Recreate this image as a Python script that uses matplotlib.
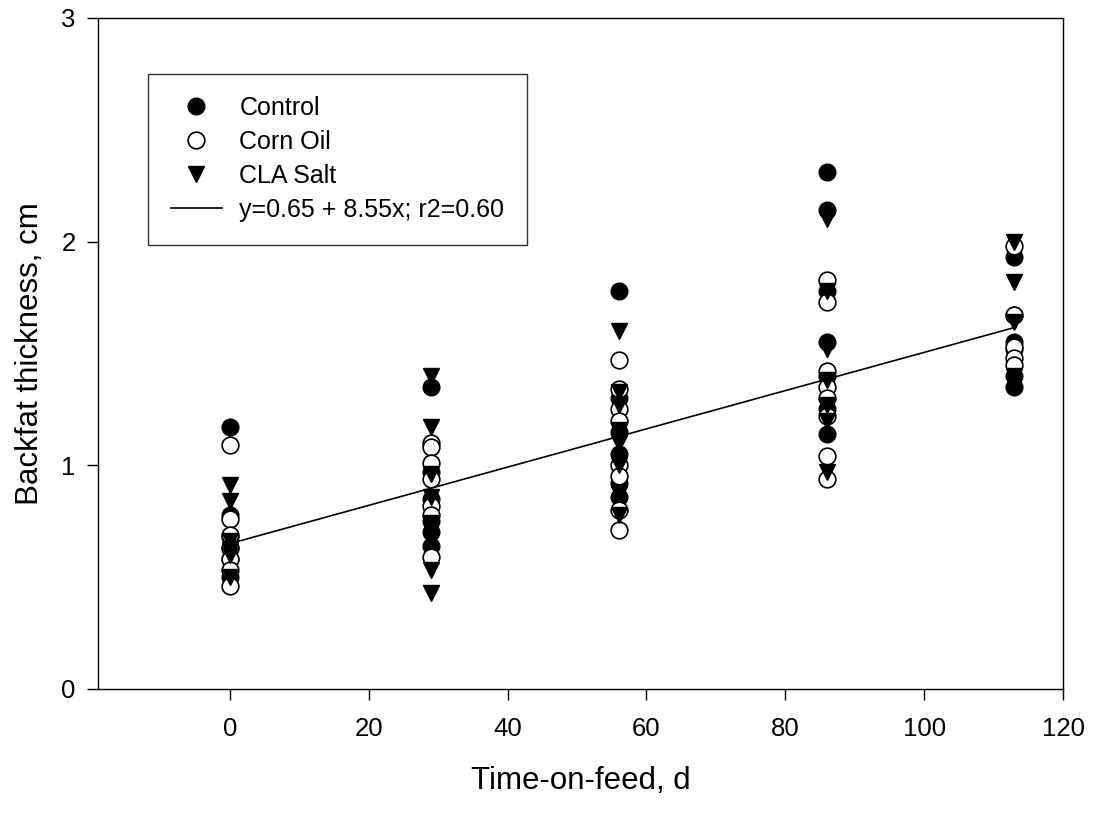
import numpy as np
import matplotlib.pyplot as plt

plt.rcParams['font.family'] = ['Liberation Sans', 'DejaVu Sans']

days = [0, 29, 56, 86, 113]

control = [
    [1.17, 0.78, 0.68, 0.63, 0.58, 0.50],
    [1.35, 0.97, 0.85, 0.75, 0.70, 0.64],
    [1.78, 1.30, 1.15, 1.05, 0.92, 0.86],
    [2.31, 2.14, 1.78, 1.55, 1.40, 1.25, 1.14],
    [1.93, 1.67, 1.55, 1.52, 1.40, 1.35],
]
corn_oil = [
    [1.09, 0.76, 0.69, 0.63, 0.58, 0.53, 0.46],
    [1.10, 1.08, 1.01, 0.94, 0.82, 0.78, 0.59],
    [1.47, 1.34, 1.25, 1.20, 1.00, 0.95, 0.80, 0.71],
    [1.83, 1.73, 1.42, 1.35, 1.30, 1.22, 1.04, 0.94],
    [1.98, 1.67, 1.53, 1.48, 1.45],
]
cla_salt = [
    [0.91, 0.84, 0.66, 0.62, 0.60, 0.50],
    [1.40, 1.17, 0.96, 0.86, 0.74, 0.68, 0.53, 0.43],
    [1.60, 1.33, 1.27, 1.16, 1.10, 1.00, 0.87, 0.78],
    [2.10, 1.78, 1.52, 1.38, 1.27, 1.20, 0.97],
    [2.00, 1.82, 1.64, 1.40],
]

intercept = 0.65
slope = 0.00855
fit_label = 'y=0.65 + 8.55x; r2=0.60'


def flatten(groups):
    xs, ys = [], []
    for d, vals in zip(days, groups):
        xs += [d] * len(vals)
        ys += vals
    return xs, ys


fig = plt.figure(figsize=(10.94, 8.14), dpi=100)
ax = fig.add_axes([0.0896, 0.1536, 0.8821, 0.8243])

x, y = flatten(control)
ax.plot(x, y, 'o', ms=12, mfc='black', mec='black', label='Control')
x, y = flatten(corn_oil)
ax.plot(x, y, 'o', ms=12, mfc='white', mec='black', mew=1.2, label='Corn Oil')
x, y = flatten(cla_salt)
ax.plot(x, y, 'v', ms=12, mfc='black', mec='black', label='CLA Salt')

fit_x = np.array([days[0], days[-1]])
ax.plot(fit_x, intercept + slope * fit_x, color='black', lw=1.2, label=fit_label)

ax.set_xlim(-19, 120)
ax.set_ylim(0, 3)
ax.set_xticks([0, 20, 40, 60, 80, 100, 120])
ax.set_yticks([0, 1, 2, 3])
ax.tick_params(direction='out', length=8, width=1, labelsize=18.5)
ax.tick_params(axis='x', pad=12)
ax.tick_params(axis='y', pad=8)
for s in ax.spines.values():
    s.set_linewidth(1)

ax.set_xlabel('Time-on-feed, d', fontsize=22.5, labelpad=18)
ax.set_ylabel('Backfat thickness, cm', fontsize=22.5, labelpad=12)

leg = ax.legend(loc='upper left', bbox_to_anchor=(0.052, 0.917), fontsize=18,
                frameon=True, fancybox=False, edgecolor='black', borderpad=0.9,
                handlelength=2.05, handletextpad=0.7, labelspacing=0.4,
                borderaxespad=0)
leg.get_frame().set_linewidth(1)

fig.savefig('out.png', dpi=100)
